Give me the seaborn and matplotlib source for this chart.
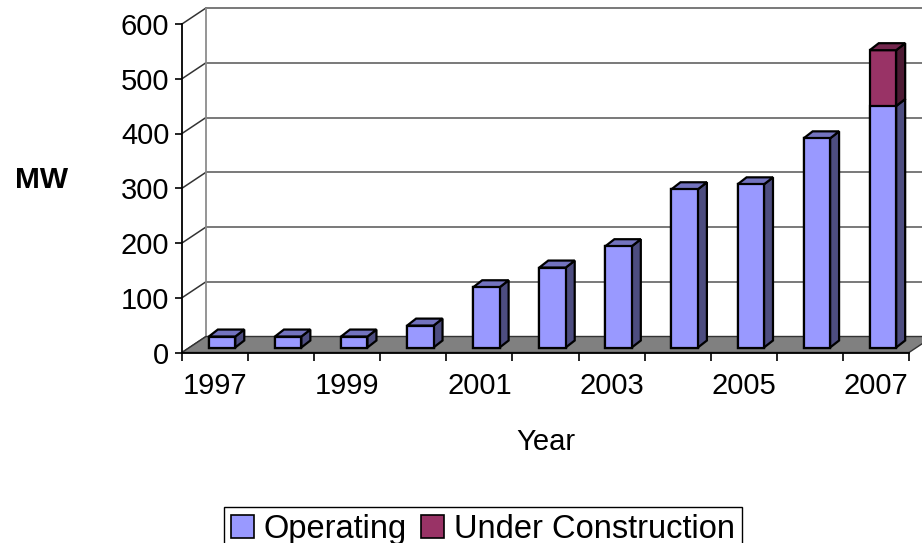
import numpy as np
import pandas as pd
import matplotlib
matplotlib.use("Agg")
import matplotlib.pyplot as plt
import matplotlib.transforms as mtransforms
from matplotlib.patches import Polygon, Patch
import seaborn as sns

# ---------------- data ----------------
years = ["1997", "1998", "1999", "2000", "2001", "2002", "2003", "2004", "2005", "2006", "2007"]
operating = [20, 20, 20, 40, 110, 146, 185, 289, 298, 382, 441]
under_construction = [0, 0, 0, 0, 0, 0, 0, 0, 0, 0, 102]
y_ticks = [0, 100, 200, 300, 400, 500, 600]
x_tick_labels = ["1997", "", "1999", "", "2001", "", "2003", "", "2005", "", "2007"]
series_names = ["Operating", "Under Construction"]

# ---------------- style ----------------
c_op, c_op_side, c_op_top = "#9999FF", "#4D4D80", "#7373BF"
c_uc, c_uc_side, c_uc_top = "#993366", "#4D1A33", "#73264D"

sns.set_theme(style="white")
plt.rcParams["font.family"] = ["Liberation Sans", "DejaVu Sans"]
for k in ["text.color", "axes.labelcolor", "xtick.color", "ytick.color"]:
    plt.rcParams[k] = "black"
FS = 21

W, H, DPI = 922, 543, 100
fig = plt.figure(figsize=(W / DPI, H / DPI), dpi=DPI)
L, R, T, B = 182, 909, 24, 352.5
ax = fig.add_axes([L / W, 1 - B / H, (R - L) / W, (B - T) / H])

df = pd.DataFrame({"Year": years, "Operating": operating,
                   "Under": under_construction})
df["Total"] = df["Operating"] + df["Under"]

# front faces of bars, through seaborn
sns.barplot(data=df, x="Year", y="Total", order=years, color=c_uc, saturation=1,
            width=0.4, edgecolor="black", linewidth=1.6, ax=ax, zorder=3)
sns.barplot(data=df, x="Year", y="Operating", order=years, color=c_op, saturation=1,
            width=0.4, edgecolor="black", linewidth=1.6, ax=ax, zorder=3.2)
bar_patches = list(ax.patches)

n = len(years)
ymax = y_ticks[-1]
ax.set_xlim(-0.5, n - 0.5)
ax.set_ylim(0, ymax)

ppx = (R - L) / n          # pixels per category
ppy = (B - T) / ymax       # pixels per MW


def d(px, py):
    return px / ppx, py / ppy


wx, wy = d(24, 16)     # depth of back wall
bx, by = d(9, 7)       # depth of bars
front_tr = ax.transData + mtransforms.ScaledTranslation(7 / DPI, 5 / DPI, fig.dpi_scale_trans)

for p in bar_patches:
    p.set_transform(front_tr)
    p.set_clip_on(False)

# side and top faces of each bar
op_patches = bar_patches[n:]
for i in range(n):
    p = op_patches[i]
    x0, w = p.get_x(), p.get_width()
    op = operating[i]
    tot = op + under_construction[i]
    segs = [(0, op, c_op_side)]
    if under_construction[i] > 0:
        segs.append((op, tot, c_uc_side))
    for y0, y1, col in segs:
        side = Polygon([(x0 + w, y0), (x0 + w + bx, y0 + by), (x0 + w + bx, y1 + by), (x0 + w, y1)],
                       closed=True, facecolor=col, edgecolor="black", linewidth=1.6,
                       transform=front_tr, zorder=3.1, clip_on=False)
        ax.add_patch(side)
    top_col = c_uc_top if under_construction[i] > 0 else c_op_top
    top = Polygon([(x0, tot), (x0 + bx, tot + by), (x0 + w + bx, tot + by), (x0 + w, tot)],
                  closed=True, facecolor=top_col, edgecolor="black", linewidth=1.6,
                  transform=front_tr, zorder=3.1, clip_on=False)
    ax.add_patch(top)

# back wall, side wall, floor
xl, xr = -0.5, n - 0.5
for v in y_ticks[1:]:
    ax.plot([xl + wx, xr + wx], [v + wy, v + wy], color="#6E6E6E", lw=1.3,
            zorder=1, clip_on=False)
for v in y_ticks:
    ax.plot([xl, xl + wx], [v, v + wy], color="#333333", lw=1.1, zorder=1, clip_on=False)
ax.plot([xl + wx, xl + wx], [wy, ymax + wy], color="#8C8C8C", lw=1.3, zorder=1, clip_on=False)
floor = Polygon([(xl, 0), (xr, 0), (xr + wx, wy), (xl + wx, wy)], closed=True,
                facecolor="#808080", edgecolor="#333333", linewidth=1.0, zorder=1.5,
                clip_on=False)
ax.add_patch(floor)

# axes styling
for s in ["top", "right"]:
    ax.spines[s].set_visible(False)
for s in ["left", "bottom"]:
    ax.spines[s].set_color("black")
    ax.spines[s].set_linewidth(1.3)
    ax.spines[s].set_zorder(2)
ax.grid(False)
ax.set_yticks(y_ticks)
ax.set_yticklabels([str(v) for v in y_ticks], fontsize=FS)
ax.set_xticks(range(n))
ax.set_xticklabels(x_tick_labels, fontsize=FS)
ax.set_xticks(np.arange(-0.5, n, 1.0), minor=True)
ax.tick_params(axis="y", which="major", direction="out", length=5, width=1.2,
               color="black", pad=4, left=True)
ax.tick_params(axis="x", which="major", length=0, pad=14)
ax.tick_params(axis="x", which="minor", direction="out", length=6, width=1.2,
               color="black", bottom=True)

ax.set_xlabel("Year", fontsize=FS, labelpad=20)
ax.set_ylabel("MW", fontsize=FS + 0.5, fontweight="bold", rotation=0)
ax.yaxis.set_label_coords((42 - L) / (R - L), (B - 180) / (B - T))
ax.yaxis.label.set_va("center")
ax.yaxis.label.set_ha("center")

handles = [Patch(facecolor=c_op, edgecolor="black", linewidth=1.2),
           Patch(facecolor=c_uc, edgecolor="black", linewidth=1.2)]
leg = fig.legend(handles, series_names, loc="upper center",
                 bbox_to_anchor=(483 / W, 1 - 507 / H), ncol=2, fontsize=23.5,
                 frameon=True, fancybox=False, edgecolor="black", framealpha=1,
                 handlelength=0.7, handleheight=0.7, handletextpad=0.3,
                 columnspacing=0.45, borderpad=0.2, borderaxespad=0)
leg.get_frame().set_linewidth(1.0)

fig.savefig("out.png", dpi=DPI)
